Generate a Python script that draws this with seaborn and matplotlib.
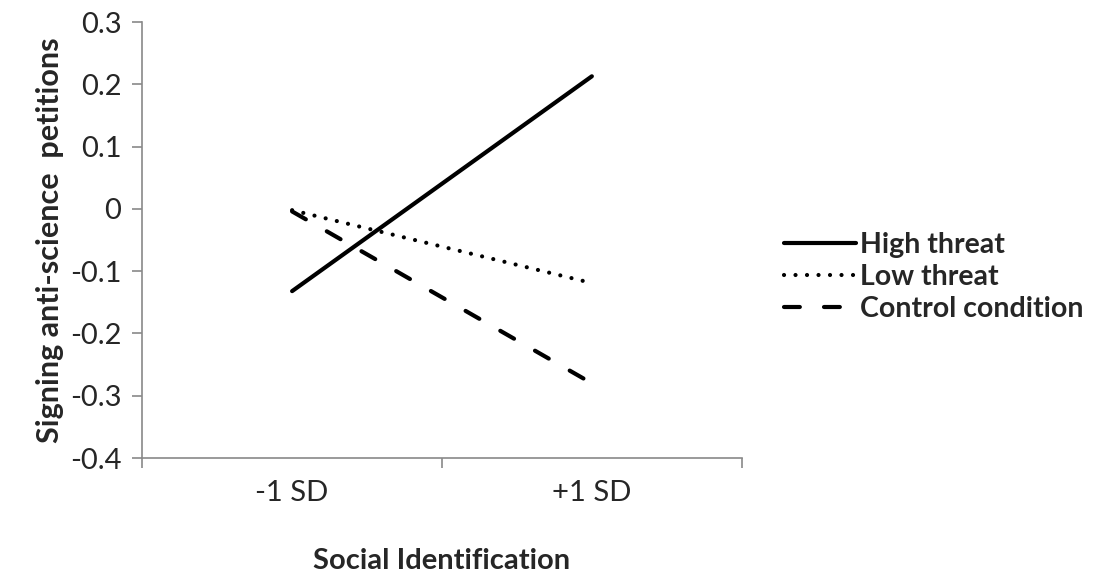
import matplotlib
matplotlib.use('Agg')
import matplotlib.pyplot as plt
import seaborn as sns
import pandas as pd

# data
levels = ['-1 SD', '+1 SD']
high_threat = [-0.132, 0.213]
low_threat = [-0.002, -0.119]
control = [-0.004, -0.28]
conditions = ['High threat', 'Low threat', 'Control condition']

df = pd.DataFrame({
    'x': [0, 1] * 3,
    'y': high_threat + low_threat + control,
    'cond': [c for c in conditions for _ in levels],
})

sns.set_style('white')
plt.rcParams['font.family'] = ['Lato', 'DejaVu Sans']
plt.rcParams['lines.dash_capstyle'] = 'round'
plt.rcParams['lines.solid_capstyle'] = 'round'

fig = plt.figure(figsize=(10.94, 5.82), dpi=100)
ax = fig.add_axes([0.13, 0.213, 0.548, 0.749])

dashes = {'High threat': '', 'Low threat': (0.01, 2.75), 'Control condition': (3.8, 5.8)}
sns.lineplot(data=df, x='x', y='y', style='cond', style_order=conditions,
             dashes=dashes, color='black', linewidth=3, ax=ax, legend=True)

ax.set_xlim(-0.5, 1.5)
ax.set_ylim(-0.4, 0.3)
ax.set_yticks([-0.4, -0.3, -0.2, -0.1, 0, 0.1, 0.2, 0.3])
ax.set_yticklabels(['-0.4', '-0.3', '-0.2', '-0.1', '0', '0.1', '0.2', '0.3'])
ax.set_xticks([-0.5, 0.5, 1.5])
ax.set_xticklabels([])
ax.set_xticks([0, 1], minor=True)
ax.set_xticklabels(levels, minor=True)
ax.tick_params(axis='x', which='major', bottom=True, length=7, color='#898989', width=1.2, direction='out')
ax.tick_params(axis='x', which='minor', bottom=False, length=0, labelsize=21, pad=16)
ax.tick_params(axis='y', left=True, length=7, color='#898989', width=1.2, direction='out', labelsize=21, pad=8)

for s in ['top', 'right']:
    ax.spines[s].set_visible(False)
for s in ['left', 'bottom']:
    ax.spines[s].set_color('#898989')
    ax.spines[s].set_linewidth(1.2)

ax.set_xlabel('Social Identification', fontsize=21, fontweight='bold', labelpad=30)
ax.set_ylabel('Signing anti-science  petitions', fontsize=22, fontweight='bold', labelpad=4)

leg = ax.legend(loc='center left', bbox_to_anchor=(1.07, 0.415), frameon=False,
                borderpad=0, borderaxespad=0,
                handlelength=2.55, handletextpad=0.12, labelspacing=0.22,
                prop={'size': 20.5, 'weight': 'bold'})

plt.savefig('out.png', dpi=100)
